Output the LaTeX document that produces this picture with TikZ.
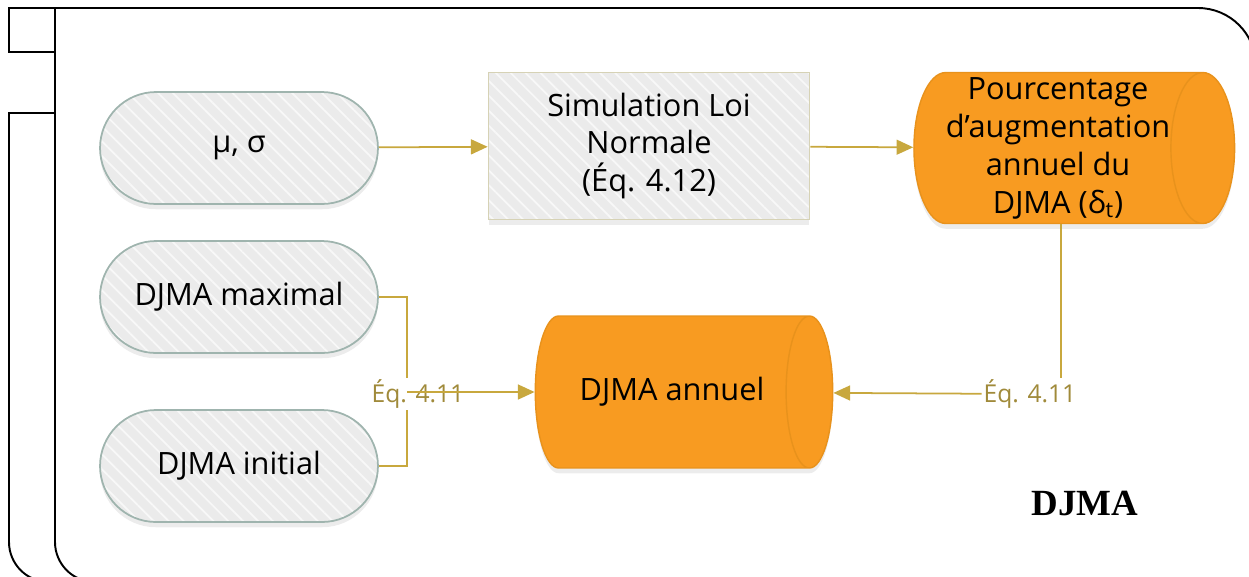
\documentclass[tikz,border=0pt]{standalone}
\usepackage{fontspec}
\setmainfont{Open Sans}
\newfontfamily\titlefont{Liberation Serif}
\usetikzlibrary{positioning, shapes.geometric, shadows, patterns.meta, arrows.meta}
\definecolor{linkgold}{HTML}{C8A83E}
\definecolor{eqtext}{HTML}{A08A3A}
\definecolor{boxgray}{HTML}{EBEBEB}
\definecolor{pillline}{HTML}{9FB4AE}
\definecolor{simline}{HTML}{D6D2B5}
\definecolor{drumfill}{HTML}{F89B21}
\definecolor{drumline}{HTML}{E8921C}
\begin{document}
\begin{tikzpicture}[x=0.02cm,y=-0.02cm,font=\fontsize{17.5}{21.6}\selectfont]
        \tikzstyle{point}=[coordinate]
        \tikzstyle{frameline}=[line width=1.1pt, black]
        \tikzstyle{hatch}=[drop shadow={shadow xshift=0pt, shadow yshift=-3pt, opacity=0.15},
                           preaction={fill=boxgray},
                           pattern={Lines[angle=-45, distance=6pt, line width=1pt]}, pattern color=boxgray!35!white]
        \tikzstyle{pill}=[hatch, draw=pillline, line width=1pt, rectangle, rounded corners=1.12cm,
                          minimum width=5.56cm, minimum height=2.24cm]
        \tikzstyle{block}=[hatch, draw=simline, line width=1pt, rectangle, align=center,
                           minimum width=6.42cm, minimum height=2.94cm]
        \tikzstyle{drum}=[cylinder, draw=drumline, line width=0.8pt, fill=drumfill,
                          align=center, inner sep=0pt,
                          drop shadow={shadow xshift=0pt, shadow yshift=-3pt, opacity=0.15}]
        \tikzstyle{wire}=[draw=linkgold, line width=1pt]
        \tikzstyle{link}=[wire, -{Triangle[length=9.5pt, width=8.5pt]}]
        \tikzstyle{eqlabel}=[fill=white, text=eqtext, inner sep=1pt, font=\fontsize{14}{16}\selectfont]
        \useasboundingbox (0,0) rectangle (1249,576);
        % frame
        \draw[frameline] (9,8) rectangle (55,52);
        \draw[frameline] (55,300) -- (55,8) -- (1100,8);
        \draw[frameline, rounded corners=1.16cm] (1100,8) -- (1256,8) -- (1256,300);
        \draw[frameline, rounded corners=0.8cm] (55,300) -- (55,582) -- (200,582);
        \draw[frameline] (55,113) -- (9,113) -- (9,300);
        \draw[frameline, rounded corners=0.8cm] (9,300) -- (9,582) -- (150,582);
        % nodes
        \node[pill]   (1) at (239,148) {μ, σ};
        \node[pill]   (2) at (239,297) {DJMA maximal};
        \node[pill]   (3) at (239,466) {DJMA initial};
        \node[block]  (4) at (649,146) {Simulation Loi\\Normale\\(Éq. 4.12)};
        \node[drum, aspect=0.45, minimum height=6.0cm, minimum width=3.02cm] (5) at (1058,148)
              {Pourcentage\\d’augmentation\\annuel du\\DJMA (δ\textsubscript{t})};
        \node[drum, aspect=1.6, minimum height=5.95cm, minimum width=3.04cm] (6) at (672,392) {DJMA annuel};
        \node[point]  (7) at (407,392) {};
        \node[point]  (8) at (1061,392) {};
        % connectors
        \draw[link] (1) -- (4);
        \draw[link] (4) -- (5);
        \draw[wire] (2) -| (7)   (3) -| (7);
        \node[eqlabel] (9) at (418,394) {Éq. 4.11};
        \draw[link] (7) -- (6);
        \draw[wire] (8 |- 5.south) -- (8);
        \node[eqlabel] (10) at (1030,394) {Éq. 4.11};
        \draw[link] (10) -- (6);
        \node[font=\titlefont\bfseries\fontsize{21}{24}\selectfont] (11) at (1085,503) {DJMA};
    \end{tikzpicture}
\end{document}
